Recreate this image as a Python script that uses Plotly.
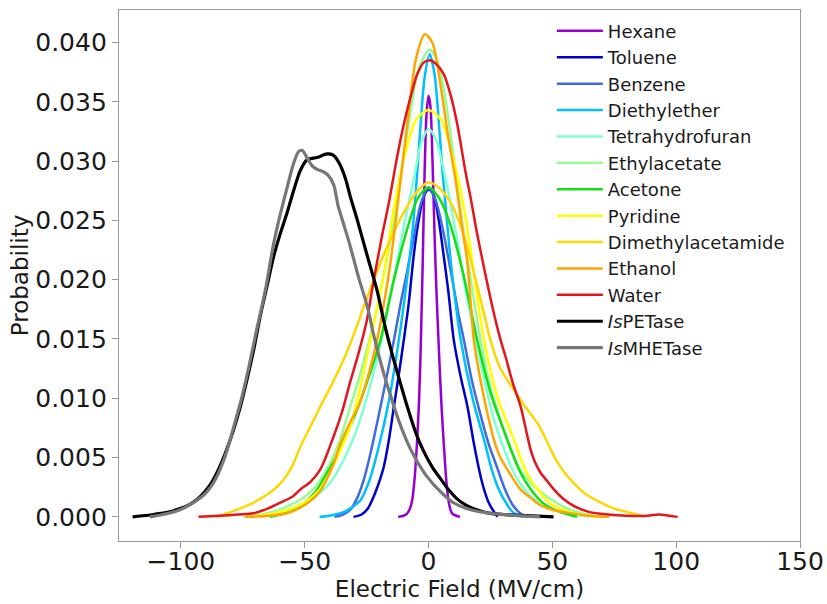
import plotly.graph_objects as go

# Electric-field distributions (MV/cm) for each solvent and the two enzymes
hexane_x = [-12.3, -10, -8.6, -7.5, -6.6, -5.6, -4.6, -3.8, -3.2, -2.4, -1.6, -0.8, 0, 0.8, 1.6, 2.4, 3.2, 4.2, 5.2, 6.2, 7.2, 8.2, 9.5, 12.7]
hexane_y = [0, 0.0001, 0.0003, 0.0007, 0.0014, 0.0033, 0.0065, 0.0100, 0.0140, 0.0210, 0.0290, 0.0340, 0.0355, 0.0345, 0.0300, 0.0240, 0.0190, 0.0140, 0.0095, 0.0060, 0.0030, 0.0012, 0.0003, 0]

toluene_x = [-30.3, -27, -24.5, -22.8, -20.5, -18.1, -16, -14, -12, -10, -8, -6, -4, -2, 0, 2, 4, 6, 8, 10.2, 13, 15.7, 18.3, 19.7, 21.5, 23.7, 25, 27.8]
toluene_y = [0, 0.0002, 0.0007, 0.0014, 0.0026, 0.0042, 0.0065, 0.0093, 0.0120, 0.0149, 0.0180, 0.0220, 0.0250, 0.0270, 0.0276, 0.0272, 0.0252, 0.0222, 0.0190, 0.0149, 0.0118, 0.0093, 0.0062, 0.0047, 0.0030, 0.0015, 0.0009, 0]

benzene_x = [-38, -34.5, -31.6, -28.8, -26.2, -23.5, -20.8, -17.5, -14, -11, -9.3, -6, -3, 0, 3, 6, 9.6, 12, 14.3, 17.5, 21, 24.5, 27.8, 31.1, 34, 37, 40]
benzene_y = [0, 0.0002, 0.0006, 0.0016, 0.0031, 0.0053, 0.0079, 0.0112, 0.0149, 0.0183, 0.0200, 0.0235, 0.0265, 0.0277, 0.0266, 0.0240, 0.0200, 0.0172, 0.0149, 0.0115, 0.0086, 0.0060, 0.0041, 0.0022, 0.0010, 0.0003, 0]

diethylether_x = [-44, -40, -34.3, -31, -27.5, -24, -20, -16, -12, -9, -6.5, -4.8, -3.2, -1.5, 0.5, 2.5, 4.2, 5.5, 6.9, 9, 13, 18, 22.4, 25.5, 28.4, 31.8, 34, 38]
diethylether_y = [0, 0.0001, 0.0004, 0.0008, 0.0014, 0.0030, 0.0060, 0.0098, 0.0149, 0.0195, 0.0240, 0.0284, 0.0331, 0.0372, 0.0390, 0.0372, 0.0331, 0.0295, 0.0262, 0.0215, 0.0149, 0.0098, 0.0065, 0.0040, 0.0023, 0.0010, 0.0004, 0]

thf_x = [-68, -58, -50, -44, -40, -35, -30, -25, -20, -15, -10, -6, -3, 0, 3, 7, 11, 15.7, 19, 22, 26, 30, 35, 40, 45, 52, 65]
thf_y = [0, 0.0004, 0.0010, 0.0020, 0.0028, 0.0045, 0.0068, 0.0100, 0.0140, 0.0190, 0.0245, 0.0284, 0.0315, 0.0327, 0.0318, 0.0284, 0.0240, 0.0183, 0.0150, 0.0120, 0.0085, 0.0060, 0.0035, 0.0020, 0.0011, 0.0005, 0]

ethylacetate_x = [-75, -65, -58, -50, -43.7, -37, -31.6, -27, -22, -18, -14, -10, -7, -4, 0.5, 4, 7, 10, 13.5, 17, 21, 25, 29, 33, 37, 42, 45.3, 50, 56, 62, 67]
ethylacetate_y = [0, 0.0003, 0.0008, 0.0017, 0.0031, 0.0058, 0.0093, 0.0125, 0.0165, 0.0205, 0.0250, 0.0305, 0.0345, 0.0378, 0.0394, 0.0382, 0.0350, 0.0305, 0.0250, 0.0200, 0.0149, 0.0110, 0.0082, 0.0058, 0.0040, 0.0027, 0.0021, 0.0014, 0.0007, 0.0003, 0]

acetone_x = [-64, -58, -51.8, -46, -41, -37, -33, -28, -23.5, -19.4, -14, -9, -4.5, 0, 4.5, 9, 14, 19.7, 25, 31.8, 36.5, 41.3, 46, 52, 60]
acetone_y = [0, 0.0003, 0.0009, 0.0020, 0.0037, 0.0052, 0.0070, 0.0095, 0.0122, 0.0149, 0.0200, 0.0240, 0.0268, 0.0278, 0.0268, 0.0245, 0.0205, 0.0149, 0.0105, 0.0065, 0.0040, 0.0023, 0.0012, 0.0005, 0]

pyridine_x = [-72, -62, -54, -48, -44, -40, -35.6, -31, -27, -23.5, -18, -14, -9, -5, 0, 5, 9, 14.3, 18, 22.4, 28, 34.5, 39, 44, 50, 57, 68]
pyridine_y = [0, 0.0003, 0.0008, 0.0015, 0.0023, 0.0037, 0.0056, 0.0080, 0.0115, 0.0149, 0.0205, 0.0260, 0.0310, 0.0335, 0.0343, 0.0335, 0.0310, 0.0260, 0.0210, 0.0149, 0.0100, 0.0065, 0.0040, 0.0023, 0.0010, 0.0004, 0]

dma_x = [-86, -80, -75, -70.7, -65, -59.9, -55, -51.8, -47.5, -43.7, -40, -36.9, -31.6, -24.8, -16.7, -8.6, -4, 0, 4, 8.9, 12.5, 16, 19, 22, 25, 28, 31, 34.5, 39, 44, 47.5, 50.7, 54, 58.8, 63, 69.6, 75, 80.4, 86]
dma_y = [0, 0.0004, 0.0008, 0.0012, 0.0019, 0.0028, 0.0043, 0.0059, 0.0077, 0.0093, 0.0108, 0.0121, 0.0146, 0.0185, 0.0228, 0.0262, 0.0276, 0.0282, 0.0278, 0.0265, 0.0248, 0.0225, 0.0200, 0.0175, 0.0149, 0.0130, 0.0118, 0.0107, 0.0093, 0.0079, 0.0065, 0.0051, 0.0040, 0.0028, 0.0020, 0.0012, 0.0007, 0.0004, 0.0001]

ethanol_x = [-74, -65, -57.2, -50, -43.7, -38.3, -35.6, -31.6, -28, -24.5, -20.8, -18, -15.4, -11.3, -8.6, -5, -1.5, 1.5, 5.5, 7.6, 10.9, 13.5, 15.7, 18.3, 21, 23.7, 26.4, 29, 31.8, 37.2, 41.3, 45, 50, 55, 65, 73]
ethanol_y = [0, 0.0001, 0.0003, 0.0010, 0.0022, 0.0045, 0.0062, 0.0080, 0.0095, 0.0118, 0.0149, 0.0180, 0.0214, 0.0284, 0.0331, 0.0387, 0.0407, 0.0400, 0.0355, 0.0325, 0.0284, 0.0245, 0.0214, 0.0149, 0.0115, 0.0088, 0.0065, 0.0050, 0.0040, 0.0023, 0.0016, 0.0010, 0.0006, 0.0004, 0.0001, 0]

water_x = [-92.9, -84, -77, -70.7, -65, -59.9, -55, -51.8, -47.5, -43.7, -38.3, -35, -31.6, -28.8, -25, -22.1, -18.5, -16, -13, -10, -7, -4.6, -2, 0.5, 3, 6.2, 9, 11.6, 15, 17, 19.5, 22.4, 26, 29.1, 31.1, 34, 37.2, 39.5, 41.3, 43, 45.3, 48, 50.7, 54.5, 58.8, 65, 72.3, 80, 88.5, 93, 97, 100.6]
water_y = [0, 0.0001, 0.0002, 0.0003, 0.0007, 0.0012, 0.0017, 0.0023, 0.0030, 0.0040, 0.0068, 0.0088, 0.0114, 0.0134, 0.0165, 0.0200, 0.0240, 0.0265, 0.0300, 0.0331, 0.0356, 0.0373, 0.0383, 0.0385, 0.0382, 0.0373, 0.0355, 0.0331, 0.0290, 0.0269, 0.0240, 0.0210, 0.0175, 0.0149, 0.0135, 0.0113, 0.0093, 0.0072, 0.0056, 0.0046, 0.0037, 0.0030, 0.0023, 0.0015, 0.0009, 0.0004, 0.0002, 0.0001, 0.0001, 0.0002, 0.0001, 0]

pet_x = [-119.5, -111, -105, -100.3, -96, -92.2, -88.5, -85.5, -82, -78.8, -76, -73.3, -70.5, -68, -65.2, -62.6, -60, -57.2, -54.5, -51.8, -49.1, -45, -41, -38.5, -36, -33.5, -31.6, -29, -26.2, -23.5, -20.8, -17.5, -14, -11, -8.6, -5, -1.9, 1.5, 4.9, 8, 11.6, 14.3, 17, 21, 25, 30, 40, 50.5]
pet_y = [0, 0.0002, 0.0004, 0.0007, 0.0011, 0.0017, 0.0026, 0.0037, 0.0054, 0.0073, 0.0093, 0.0116, 0.0142, 0.0169, 0.0195, 0.0219, 0.0238, 0.0256, 0.0275, 0.0292, 0.0301, 0.0303, 0.0306, 0.0305, 0.0298, 0.0285, 0.0270, 0.0252, 0.0231, 0.0211, 0.0191, 0.0160, 0.0132, 0.0110, 0.0093, 0.0070, 0.0055, 0.0042, 0.0032, 0.0023, 0.0015, 0.0011, 0.0008, 0.0005, 0.0003, 0.0002, 0.0001, 0]

mhet_x = [-112.5, -105, -100.3, -95, -90, -86, -82, -78.8, -75.5, -72.5, -69.5, -66, -62.6, -60, -57.2, -54.5, -52.5, -51, -49.1, -47, -45, -42.5, -40.5, -38.3, -36.5, -34.3, -31.6, -28, -24.8, -22, -18.1, -15, -12.7, -9, -5.5, -1, 4.9, 10, 17, 25, 35.9, 45]
mhet_y = [0, 0.0003, 0.0006, 0.0012, 0.0020, 0.0032, 0.0052, 0.0075, 0.0100, 0.0127, 0.0157, 0.0190, 0.0230, 0.0254, 0.0277, 0.0298, 0.0308, 0.0309, 0.0303, 0.0296, 0.0293, 0.0291, 0.0288, 0.0280, 0.0262, 0.0247, 0.0228, 0.0200, 0.0178, 0.0152, 0.0121, 0.0100, 0.0085, 0.0065, 0.0050, 0.0035, 0.0021, 0.0012, 0.0006, 0.0003, 0.0001, 0]

x_ticks = [-100, -50, 0, 50, 100, 150]
y_ticks = [0.000, 0.005, 0.010, 0.015, 0.020, 0.025, 0.030, 0.035, 0.040]

series = [
    ("Hexane", hexane_x, hexane_y, "#9400D3", 2.5),
    ("Toluene", toluene_x, toluene_y, "#0000CD", 2.5),
    ("Benzene", benzene_x, benzene_y, "#4169E1", 2.5),
    ("Diethylether", diethylether_x, diethylether_y, "#00BFFF", 2.5),
    ("Tetrahydrofuran", thf_x, thf_y, "#7FFFD4", 2.5),
    ("Ethylacetate", ethylacetate_x, ethylacetate_y, "#98FB98", 2.5),
    ("Acetone", acetone_x, acetone_y, "#12E012", 2.5),
    ("Pyridine", pyridine_x, pyridine_y, "#FFFF00", 2.5),
    ("Dimethylacetamide", dma_x, dma_y, "#FFD700", 2.5),
    ("Ethanol", ethanol_x, ethanol_y, "#FFA500", 2.5),
    ("Water", water_x, water_y, "#E3161B", 2.5),
    ("<i>Is</i>PETase", pet_x, pet_y, "#000000", 3.2),
    ("<i>Is</i>MHETase", mhet_x, mhet_y, "#777777", 3.2),
]

fig = go.Figure()
for name, xs, ys, color, width in series:
    fig.add_trace(go.Scatter(
        x=xs, y=ys, name=name, mode="lines",
        line=dict(color=color, width=width, shape="spline", smoothing=0.8),
    ))

tick_font = dict(family="DejaVu Sans", size=25, color="#1a1a1a")
title_font = dict(family="DejaVu Sans", size=23, color="#1a1a1a")
frame = "#999999"

fig.update_layout(
    width=827, height=604,
    margin=dict(l=119, r=27, t=10, b=63),
    paper_bgcolor="white", plot_bgcolor="white",
    font=dict(family="DejaVu Sans", color="#1a1a1a"),
    showlegend=True,
    legend=dict(
        x=0.6356, y=0.995, xanchor="left", yanchor="top",
        itemwidth=46,
        bgcolor="rgba(255,255,255,0)", borderwidth=0,
        font=dict(family="DejaVu Sans", size=18, color="#1a1a1a"),
    ),
    xaxis=dict(
        range=[-125, 150], tickmode="array", tickvals=x_ticks,
        ticks="outside", ticklen=6, tickwidth=1.3, tickcolor=frame,
        ticklabelstandoff=-8,
        showline=True, linecolor=frame, linewidth=1.3, mirror=True,
        showgrid=False, zeroline=False, tickfont=tick_font, automargin=False,
        title=dict(text="Electric Field (MV/cm)", font=title_font, standoff=0),
    ),
    yaxis=dict(
        range=[-0.002035, 0.04274], tickmode="array", tickvals=y_ticks,
        tickformat=".3f",
        ticks="outside", ticklen=6, tickwidth=1.3, tickcolor=frame,
        showline=True, linecolor=frame, linewidth=1.3, mirror=True,
        showgrid=False, zeroline=False, tickfont=tick_font, automargin=False,
        title=dict(text="Probability", font=title_font, standoff=0),
    ),
)

fig.write_html("out.html")
